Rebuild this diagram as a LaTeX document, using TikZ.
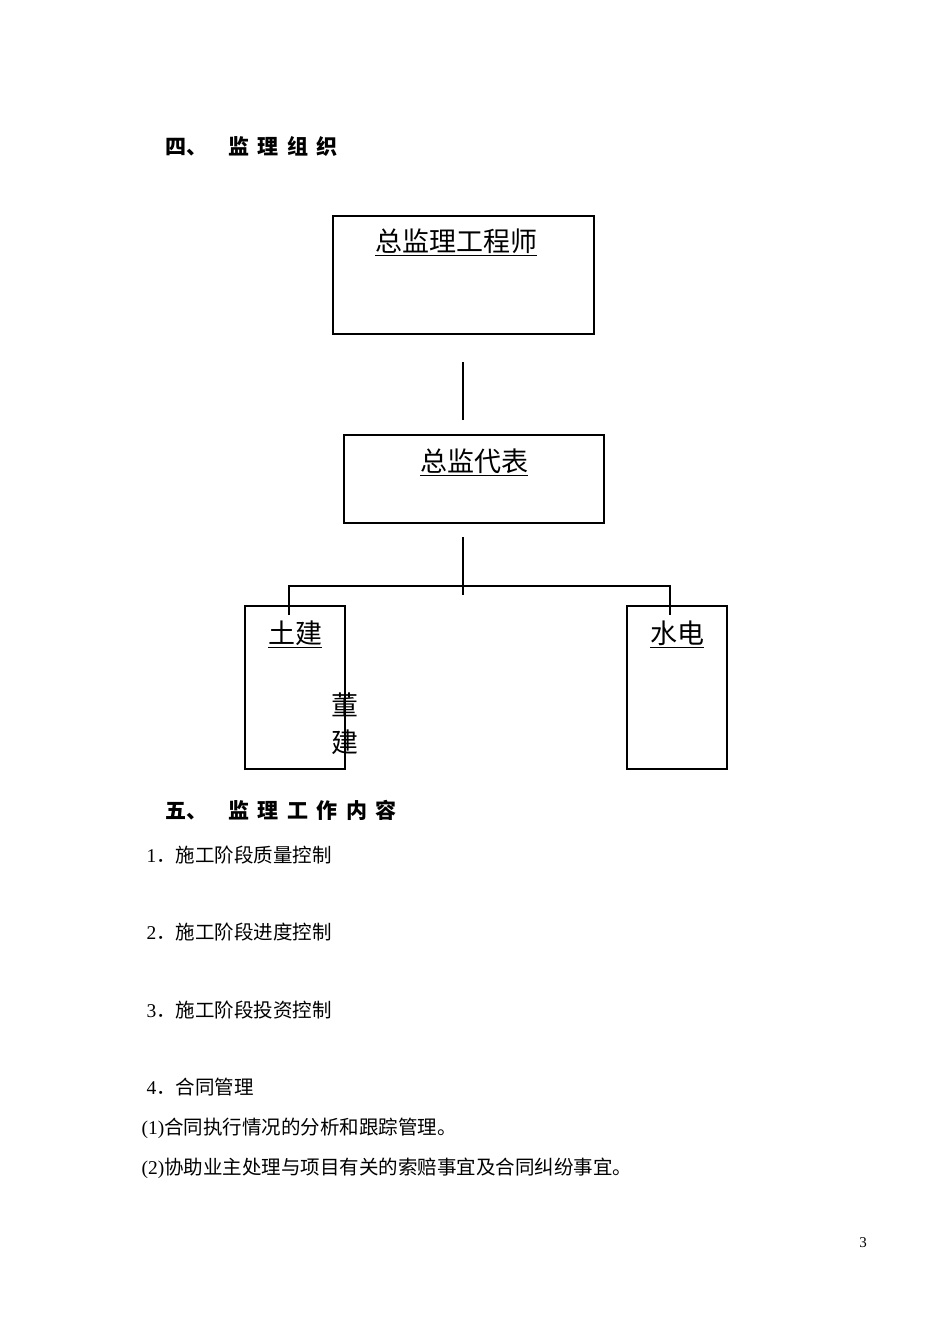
\documentclass[tikz,border=0pt]{standalone}
\usepackage{fontspec}
\setmainfont{Liberation Serif}
\newfontfamily\cjk{Noto Sans CJK SC}
\begin{document}
\begin{tikzpicture}[x=1pt,y=-1pt,line width=1.1pt,
  boxst/.style={draw,inner sep=0pt},
  lbl/.style={font=\fontsize{27}{29}\selectfont\cjk,inner sep=0pt},
  head/.style={font=\fontsize{21}{24}\selectfont\cjk\bfseries,anchor=west,inner sep=0pt},
  item/.style={font=\fontsize{19.5}{22}\selectfont,anchor=west,inner sep=0pt}]
\useasboundingbox (0,0) rectangle (950,1342);
\node[head] (h4) at (165,146) {四、\hspace{1em}监\hspace{0.4em}理\hspace{0.4em}组\hspace{0.4em}织};
\node[boxst,minimum width=261pt,minimum height=118pt] (b1) at (463.5,275) {};
\node[lbl] (t1) at (456,242) {\underline{总监理工程师}};
\coordinate (l1a) at (463,362); \coordinate (l1b) at (463,420);
\draw (l1a) -- (l1b);
\node[boxst,minimum width=260pt,minimum height=88pt] (b2) at (474,479) {};
\node[lbl] (t2) at (474,462) {\underline{总监代表}};
\coordinate (l2a) at (463,537); \coordinate (l2b) at (463,595);
\draw (l2a) -- (l2b);
\coordinate (hl) at (289,586); \coordinate (hr) at (670,586);
\draw (289,615) -- (hl) -- (hr) -- (670,615);
\node[boxst,minimum width=100pt,minimum height=163pt] (b3) at (295,687.5) {};
\node[lbl] (t3) at (295,634) {\underline{土建}};
\node[lbl] (t3b) at (345,705) {董};
\node[lbl] (t3c) at (345,742) {建};
\node[boxst,minimum width=100pt,minimum height=163pt] (b4) at (677,687.5) {};
\node[lbl] (t4) at (677,634) {\underline{水电}};
\node[head] (h5) at (165,810) {五、\hspace{1em}监\hspace{0.4em}理\hspace{0.4em}工\hspace{0.4em}作\hspace{0.4em}内\hspace{0.4em}容};
\node[item] (i1) at (146,855) {1{\cjk ．施工阶段质量控制}};
\node[item] (i2) at (146,932) {2{\cjk ．施工阶段进度控制}};
\node[item] (i3) at (146,1010) {3{\cjk ．施工阶段投资控制}};
\node[item] (i4) at (146,1087) {4{\cjk ．合同管理}};
\node[item] (i5) at (141,1128) {(1){\cjk 合同执行情况的分析和跟踪管理。}};
\node[item] (i6) at (141,1168) {(2){\cjk 协助业主处理与项目有关的索赔事宜及合同纠纷事宜。}};
\node[font=\fontsize{15}{16}\selectfont,inner sep=0pt] (pg) at (863,1243) {3};
\end{tikzpicture}
\end{document}
